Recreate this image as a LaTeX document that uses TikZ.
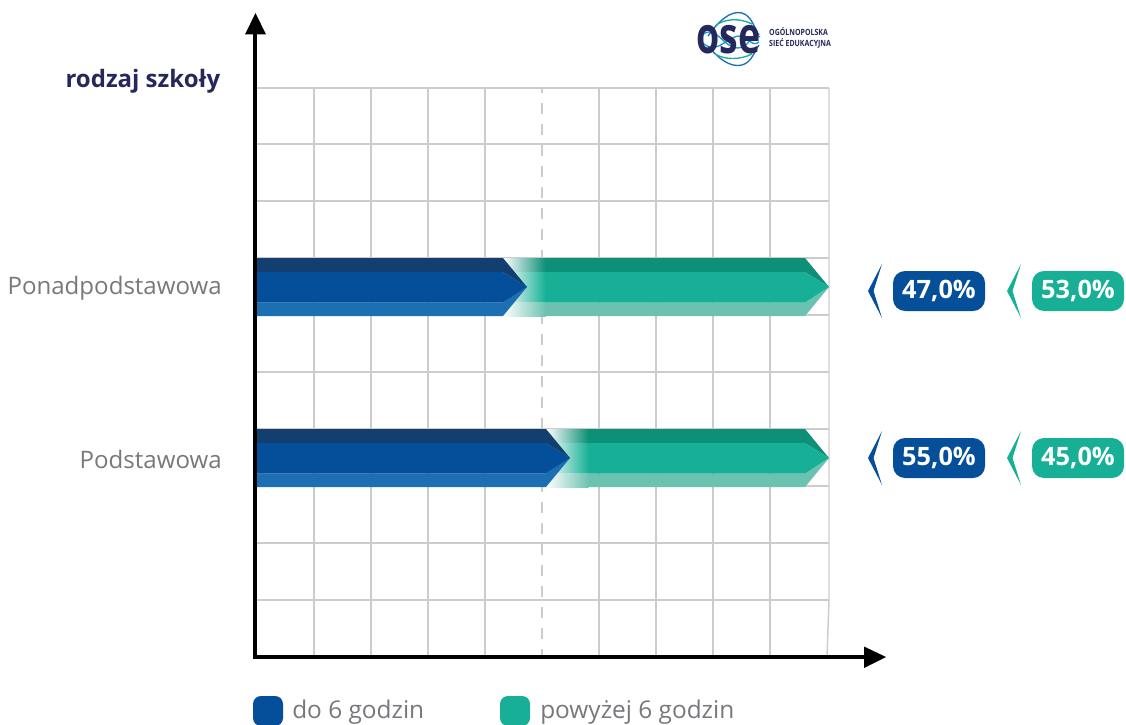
\documentclass[tikz,border=0pt]{standalone}
\usepackage{fontspec}
\setmainfont{Open Sans}
\usetikzlibrary{arrows.meta,calc}
\definecolor{blueM}{HTML}{054F9A}
\definecolor{blueT}{HTML}{123F70}
\definecolor{blueB}{HTML}{1D6FB3}
\definecolor{greenM}{HTML}{17B096}
\definecolor{greenT}{HTML}{0E8F78}
\definecolor{greenB}{HTML}{6CC2B1}
\definecolor{navy}{HTML}{25285A}
\definecolor{gridc}{HTML}{CCCCCC}
\definecolor{labelc}{HTML}{77787B}
\tikzset{
 x=0.75pt,y=-0.75pt,
 gridline/.style={draw=gridc,line width=1.1pt},
 axisline/.style={draw=black,line width=3.2pt},
 axishead/.style={fill=black,draw=none},
 catlabel/.style={text=labelc,font=\fontsize{18.05}{20}\selectfont,anchor=base east,inner sep=0pt},
 valbox/.style={rounded corners=9pt,minimum width=69pt,minimum height=30pt,inner sep=0pt,text=white,font=\bfseries\fontsize{19}{20}\selectfont},
 legendbox/.style={rounded corners=6pt,minimum width=22.5pt,minimum height=22.5pt,inner sep=0pt},
 legendtext/.style={text=labelc,font=\fontsize{18.3}{20}\selectfont,anchor=base west,inner sep=0pt},
}
\newcommand{\mybar}[3]{%
 \pgfmathsetmacro{\ya}{#1}\pgfmathsetmacro{\yb}{#1+14}\pgfmathsetmacro{\yc}{#1+29}\pgfmathsetmacro{\yd}{#1+44.5}\pgfmathsetmacro{\ye}{#1+58}
 \pgfmathsetmacro{\fe}{#2+42}
 \fill[greenT] (\fe,\ya) -- (805,\ya) -- (829,\yc) -- (805,\yb) -- (\fe,\yb) -- cycle;
 \fill[greenB] (\fe,\yd) -- (805,\yd) -- (829,\yc) -- (805,\ye) -- (\fe,\ye) -- cycle;
 \fill[greenM] (\fe,\yb) -- (805,\yb) -- (829,\yc) -- (805,\yd) -- (\fe,\yd) -- cycle;
 \shade[left color=white,middle color=greenT!75!white,right color=greenT] (#2,\ya) rectangle (\fe+.5,\yb);
 \shade[left color=white,middle color=greenM!80!white,right color=greenM] (#2,\yb) rectangle (\fe+.5,\yd);
 \shade[left color=white,middle color=greenB!75!white,right color=greenB] (#2,\yd) rectangle (\fe+.5,\ye);
 \fill[blueT] (257,\ya) -- (#2,\ya) -- (#3,\yc) -- (#2,\yb) -- (257,\yb) -- cycle;
 \fill[blueB] (257,\yd) -- (#2,\yd) -- (#3,\yc) -- (#2,\ye) -- (257,\ye) -- cycle;
 \fill[blueM] (257,\yb) -- (#2,\yb) -- (#3,\yc) -- (#2,\yd) -- (257,\yd) -- cycle;
}
\newcommand{\chev}[3]{\fill[#3] (#1+14,#2-27) -- (#1,#2) -- (#1+14,#2+27) -- (#1+5.5,#2) -- cycle;}
\begin{document}
\begin{tikzpicture}
\useasboundingbox (0,0) rectangle (1126,724);
% grid
\foreach \yy in {88,144,201,258,315,372,429,486,543,600}
  \draw[gridline] (257,\yy) -- (829,\yy);
\foreach \xx in {314,371,428,485,599,656,713,770}
  \draw[gridline] (\xx,88) -- (\xx,657);
\draw[gridline] (829,88) -- (829,600) -- (827,657);
\draw[gridline,dash pattern=on 8.25pt off 7.5pt,dash phase=4.5pt] (542,88) -- (542,657);
% bars
\mybar{258}{503}{527}
\mybar{429}{546}{570}
% axes
\coordinate (origin) at (255,657);
\coordinate (ytop) at (255.5,13);
\coordinate (xend) at (886,657);
\draw[axisline] (255,33) -- (origin) -- (865,657);
\fill[axishead] (ytop) -- (266,34.5) -- (245,34.5) -- cycle;
\fill[axishead] (xend) -- (864,646.5) -- (864,668) -- cycle;
% labels
\node[text=navy,font=\bfseries\fontsize{18}{20}\selectfont,anchor=base east,inner sep=0pt] (ylab) at (220.5,88) {rodzaj szkoły};
\node[catlabel] (c1) at (222,294) {Ponadpodstawowa};
\node[catlabel] (c2) at (222,468) {Podstawowa};
% value chevrons & boxes
\chev{868}{291}{blueM}
\chev{1007}{291}{greenM}
\chev{868}{458}{blueM}
\chev{1007}{458}{greenM}
\node[valbox,fill=blueM] (v1) at (939,291) {47,0\%};
\node[valbox,fill=greenM] (v2) at (1078,291) {53,0\%};
\node[valbox,fill=blueM] (v3) at (939,458) {55,0\%};
\node[valbox,fill=greenM] (v4) at (1078,458) {45,0\%};
% legend
\node[legendbox,fill=blueM] (l1) at (268,711) {};
\node[legendtext] (t1) at (292,718) {do 6 godzin};
\node[legendbox,fill=greenM] (l2) at (515,711) {};
\node[legendtext] (t2) at (540,718) {powyżej 6 godzin};
% logo
\begin{scope}[line width=1pt]
\draw[draw=blueB!70!cyan] (699,38) .. controls (715,20) and (722,48) .. (738,48) .. controls (750,48) and (752,30) .. (760,37);
\draw[draw=blueB!70!cyan] (700,40) .. controls (715,58) and (725,38) .. (738,36) .. controls (748,36) and (752,48) .. (759,42);
\draw[draw=blueB] (708,36) .. controls (718,22) and (730,10) .. (742,13) .. controls (752,16) and (754,28) .. (759,35);
\draw[draw=blueB] (708,46) .. controls (718,58) and (730,68) .. (742,65) .. controls (752,62) and (754,52) .. (759,45);
\draw[draw=greenM] (715,26) .. controls (725,18) and (740,18) .. (752,24);
\draw[draw=greenM] (715,54) .. controls (725,60) and (740,60) .. (752,54);
\end{scope}
\node[text=navy,font=\bfseries\fontsize{38}{38}\selectfont,inner sep=0pt,xscale=.74] (ose) at (728.5,39.5) {ose};
\node[text=navy,font=\bfseries\fontsize{6.4}{8.2}\selectfont,align=left,anchor=west,inner sep=0pt,xscale=.82] (oset) at (769,38) {OGÓLNOPOLSKA\\SIEĆ EDUKACYJNA};
\end{tikzpicture}
\end{document}
